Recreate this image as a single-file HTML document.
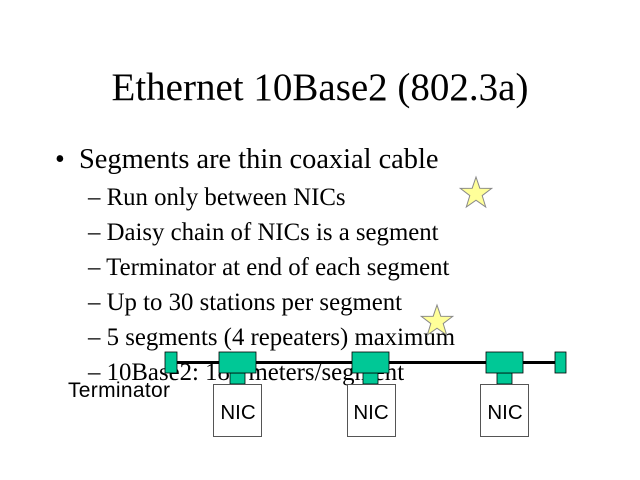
<!DOCTYPE html>
<html><head><style>
html,body{margin:0;padding:0;background:#fff;}
svg{display:block;}
text{font-family:"Liberation Serif",serif;fill:#000;}
.a{font-family:"Liberation Sans",sans-serif;}
</style></head><body>
<svg width="640" height="480" viewBox="0 0 640 480">
<rect width="640" height="480" fill="#fff"/>
<text x="320" y="100" font-size="39" text-anchor="middle">Ethernet 10Base2 (802.3a)</text>
<text x="55" y="168" font-size="28">•</text>
<text x="79" y="168" font-size="28.4">Segments are thin coaxial cable</text>
<g font-size="24.8">
<text x="88" y="205">– Run only between NICs</text>
<text x="88" y="240">– Daisy chain of NICs is a segment</text>
<text x="88" y="275">– Terminator at end of each segment</text>
<text x="88" y="310">– Up to 30 stations per segment</text>
<text x="88" y="345">– 5 segments (4 repeaters) maximum</text>
<text x="88" y="380">– 10Base2: 185 meters/segment</text>
</g>
<polygon points="476,177 479.8,188.2 491.7,188.4 482.2,195.6 485.7,207 476,200.2 466.3,207 469.8,195.6 460.3,188.4 472.2,188.2" fill="#ffff99" stroke="#888" stroke-width="1"/>
<polygon points="437,305 440.8,316.2 452.7,316.4 443.2,323.6 446.7,335 437,328.2 427.3,335 430.8,323.6 421.3,316.4 433.2,316.2" fill="#ffff99" stroke="#888" stroke-width="1"/>
<line x1="170" y1="362.5" x2="560" y2="362.5" stroke="#000" stroke-width="3"/>
<g fill="#00c896" stroke="#000" stroke-width="0.8">
<rect x="165" y="352" width="12" height="21"/>
<rect x="555" y="352" width="11" height="21"/>
<rect x="230" y="373" width="15" height="11"/>
<rect x="219" y="352" width="37" height="21"/>
<rect x="363" y="373" width="15" height="11"/>
<rect x="352" y="352" width="37" height="21"/>
<rect x="497" y="373" width="15" height="11"/>
<rect x="486" y="352" width="37" height="21"/>
</g>
<g fill="#fff" stroke="#555" stroke-width="1">
<rect x="213.5" y="384.5" width="48" height="52"/>
<rect x="347.5" y="384.5" width="48" height="52"/>
<rect x="480.5" y="384.5" width="48" height="52"/>
</g>
<g class="a" font-size="20.5" text-anchor="middle">
<text class="a" x="238" y="419">NIC</text>
<text class="a" x="371" y="419">NIC</text>
<text class="a" x="505" y="419">NIC</text>
</g>
<text class="a" x="68" y="397" font-size="21" textLength="102">Terminator</text>
</svg>
</body></html>
